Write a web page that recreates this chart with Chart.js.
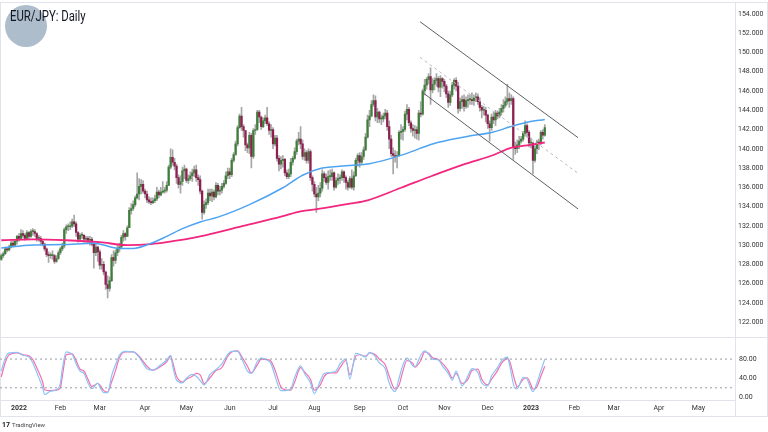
<!DOCTYPE html>
<html>
<head>
<meta charset="utf-8">
<script src="https://cdn.jsdelivr.net/npm/chart.js@4.4.0/dist/chart.umd.min.js"></script>
<style>
  body { margin: 0; width: 768px; height: 432px; overflow: hidden; position: relative; background: #fff; font-family: Roboto, "Noto Sans", sans-serif; }
  #frame { position: absolute; left: 0; top: 2px; width: 766px; height: 413px; border: 1px solid #e0e3eb; }
  .hline { position: absolute; height: 1px; background: #e0e3eb; }
  .vline { position: absolute; width: 1px; background: #e0e3eb; }
  #priceBox { position: absolute; left: 0; top: 0; width: 768px; height: 337px; }
  #stochBox { position: absolute; left: 0; top: 337px; width: 768px; height: 95px; }
  #logo { position: absolute; left: 5px; top: 5px; width: 42px; height: 42px; border-radius: 50%; background: #aebdcb; }
  #title { position: absolute; left: 10px; top: 8px; font-size: 14px; color: #131722; transform: scaleX(0.81); transform-origin: left top; white-space: nowrap; }
  #tv { position: absolute; left: 2px; top: 421px; font-size: 6px; color: #444; white-space: nowrap; }
  #tv b { font-size: 7px; color: #131722; margin-right: 2px; }
</style>
</head>
<body>
<div id="frame"></div>
<div class="hline" style="left:0; top:337px; width:768px;"></div>
<div class="vline" style="left:735px; top:2px; height:414px;"></div>
<div id="priceBox"><canvas id="priceChart" width="768" height="337"></canvas></div>
<div id="stochBox"><canvas id="stochChart" width="768" height="95"></canvas></div>
<div id="logo"></div>
<div id="title">EUR/JPY: Daily</div>
<div id="tv"><b>17</b>TradingView</div>
<script>
// bar 0 = 21 Dec 2021, one bar per weekday
const firstOpen = 128.5;
const closes = [
  128.9,129.1,129.6,129.5,129.8,130.2,130.0,130.4,130.9,
  130.7,131.2,131.0,130.7,131.3,130.9,131.4,131.4,131.2,130.7,
  130.7,130.4,130.1,129.6,129.0,128.9,128.9,128.9,128.3,128.6,
  129.2,129.6,129.9,131.6,131.9,131.9,132.0,132.4,132.2,131.3,
  130.6,131.0,131.0,130.6,130.7,130.5,130.6,130.1,129.2,129.8,
  129.3,127.9,128.0,127.2,125.9,125.5,126.3,128.7,128.4,129.2,
  129.6,129.8,130.8,131.2,130.9,131.8,133.6,133.8,134.2,134.9,
  135.3,136.1,136.3,135.6,135.3,134.7,134.5,134.4,134.6,134.8,
  135.5,135.2,135.5,135.6,135.7,136.2,138.1,139.1,138.6,138.2,
  137.0,136.3,136.6,137.7,137.9,136.7,136.9,137.2,137.5,137.8,
  137.0,136.8,135.6,133.4,134.2,134.4,135.4,135.1,135.5,135.0,
  136.2,135.6,135.7,136.1,136.4,137.2,137.6,137.3,138.8,139.4,
  140.5,142.2,143.4,142.3,141.9,140.4,140.1,141.4,139.2,141.9,
  142.0,143.8,143.3,142.3,142.9,143.2,142.6,141.9,142.0,140.5,
  141.1,139.0,138.4,138.8,138.9,137.5,137.1,137.4,138.6,139.0,
  139.7,140.8,141.0,140.5,139.2,139.6,138.8,139.7,137.0,136.3,
  135.3,135.0,135.4,135.9,137.4,137.0,136.5,137.1,137.1,137.5,
  136.0,136.7,136.9,137.0,137.6,137.0,136.5,136.0,136.9,136.0,
  137.2,138.8,139.3,138.6,139.2,139.9,141.2,143.0,143.4,144.6,
  145.0,143.3,143.8,143.1,143.1,143.4,143.7,142.3,141.0,139.5,
  139.3,139.2,139.3,141.7,141.8,142.0,143.6,144.1,142.7,142.1,
  141.9,142.0,141.6,143.7,143.6,146.0,146.6,147.2,147.5,146.1,
  146.7,147.1,147.3,146.4,147.3,147.0,146.5,145.7,144.8,145.6,
  146.6,147.1,146.5,144.2,144.9,145.1,144.4,145.0,145.1,145.1,
  145.0,145.3,145.4,144.9,144.3,144.0,144.0,143.5,142.6,142.2,
  143.3,143.0,143.7,143.4,143.8,144.2,144.5,144.9,145.2,145.0,
  145.2,140.2,140.0,140.4,140.8,141.0,141.6,142.4,141.7,140.6,
  140.6,138.8,140.0,140.7,140.6,141.7,141.4,142.2
];
const highs = [
  129.1,129.3,129.8,129.7,130.0,130.4,130.5,130.6,131.0,
  131.2,131.6,131.5,131.2,131.5,131.4,131.6,131.7,131.6,131.3,
  131.0,130.9,130.6,130.2,129.7,129.3,129.2,129.4,129.0,128.9,
  129.4,129.8,130.2,131.8,132.1,132.2,132.4,132.7,133.1,132.4,
  131.4,131.2,131.3,131.1,130.9,130.9,130.9,130.8,130.2,130.1,
  129.9,129.5,128.6,128.3,127.3,126.8,126.7,129.0,129.4,129.5,
  130.0,130.2,131.0,131.5,131.3,132.0,133.9,134.3,134.6,135.1,
  137.5,136.9,136.8,136.7,135.8,135.6,135.0,134.9,134.9,135.2,
  136.0,135.7,136.0,136.6,136.0,136.6,138.3,140.0,139.9,139.0,
  138.4,137.3,137.2,138.1,138.3,138.0,137.3,137.6,137.9,138.2,
  138.3,137.3,137.2,135.7,134.6,134.8,135.8,135.8,135.8,135.7,
  136.5,136.4,136.1,136.4,136.7,137.6,138.0,138.0,139.0,139.6,
  140.8,142.4,143.6,144.3,142.5,141.9,140.6,141.7,141.6,142.1,
  142.5,144.0,144.0,143.4,143.2,143.5,144.3,142.8,142.5,142.2,
  141.4,141.4,139.3,139.2,139.3,139.0,137.8,137.9,139.0,139.2,
  140.1,141.0,141.7,142.3,140.9,140.0,139.8,140.0,139.9,137.2,
  136.6,136.0,136.2,136.5,137.8,137.6,137.4,137.7,137.8,137.9,
  137.6,137.0,137.4,137.3,137.8,137.7,137.2,136.7,137.1,137.8,
  137.6,139.0,139.5,139.6,139.6,140.2,141.6,143.5,144.0,145.0,
  145.6,145.5,144.2,143.9,143.5,143.7,144.1,144.0,142.9,141.4,
  140.1,139.8,139.7,141.9,142.5,142.3,143.9,144.6,144.3,142.9,
  142.5,142.4,142.3,144.0,144.9,146.2,147.2,147.4,147.8,148.4,
  147.3,147.4,147.8,147.5,147.6,147.4,147.2,146.7,146.0,146.0,
  146.9,147.3,147.4,146.9,145.3,145.5,145.6,145.4,145.6,145.6,
  145.8,145.6,145.8,145.7,145.3,144.5,144.4,144.3,143.6,142.9,
  143.6,143.8,144.0,143.9,144.2,144.6,145.1,145.4,146.7,145.8,
  145.6,145.4,140.7,140.9,141.3,141.3,141.8,142.9,142.6,141.9,
  141.1,140.7,140.3,140.9,141.0,141.9,142.0,142.5
];
const lows = [
  128.4,128.7,129.0,129.3,129.4,129.7,129.8,129.9,130.1,
  130.4,130.6,130.8,130.5,130.6,130.6,130.8,131.0,130.9,130.4,
  130.4,130.1,129.9,129.4,128.8,128.2,128.6,128.5,128.1,128.2,
  128.5,129.0,129.4,129.7,131.2,131.5,131.6,131.8,131.9,130.9,
  130.3,130.4,130.7,130.3,130.3,130.2,130.0,129.9,127.6,128.9,
  128.3,127.5,127.5,126.9,125.4,124.5,125.2,126.2,127.8,128.1,
  128.9,129.3,129.7,130.4,130.5,130.9,131.8,133.2,133.6,134.0,
  134.8,134.7,135.3,135.4,134.9,134.4,134.3,134.2,134.3,134.4,
  134.6,134.9,135.1,135.4,135.4,135.5,136.2,137.9,138.3,137.8,
  136.4,135.9,135.4,136.2,136.9,136.5,136.4,136.7,136.6,137.1,
  136.6,136.2,135.3,132.7,133.2,133.8,134.2,134.6,134.5,134.7,
  134.9,135.2,135.2,135.4,135.9,136.3,136.9,136.9,137.1,138.6,
  139.3,140.3,142.1,141.9,141.2,139.8,139.6,139.5,138.0,139.0,
  141.5,141.9,142.7,142.0,142.2,142.6,142.4,141.5,141.2,140.0,
  140.3,138.7,137.7,137.9,138.1,137.2,136.9,136.9,137.1,138.3,
  138.9,139.4,140.4,140.0,138.9,138.8,138.5,138.5,136.7,135.6,
  135.0,133.4,134.6,135.0,135.6,136.6,136.3,135.8,136.7,136.7,
  135.7,135.9,136.3,136.4,136.7,136.5,135.8,135.7,135.9,135.8,
  135.7,137.1,138.2,138.1,138.4,138.9,139.8,141.1,142.3,143.3,
  144.4,142.9,142.7,142.7,142.5,142.8,143.1,141.9,140.0,139.2,
  137.4,138.6,138.0,139.2,141.0,140.9,141.8,143.0,142.4,141.7,
  141.3,141.1,141.0,140.9,143.3,143.5,145.6,146.2,146.7,144.6,
  145.8,146.1,146.5,145.9,145.4,146.3,145.9,145.3,144.3,144.5,
  145.4,146.2,146.0,143.7,143.9,144.2,143.9,144.2,144.3,144.6,
  144.6,144.5,144.9,144.6,143.9,143.2,143.5,142.8,142.1,140.8,
  141.9,142.6,142.4,143.1,143.2,143.5,143.8,144.3,144.6,144.3,
  144.6,138.9,139.4,139.6,140.0,140.6,140.8,141.3,141.2,140.2,
  140.1,137.4,138.6,139.5,139.9,140.4,141.0,141.3
];

// moving averages (bar index, price)
const blueMaIdx = [0,16,31,47,60,67,75,84,92,101,110,126,143,153,162,177,187,197,207,219,236,250,258,267,276];
const blueMa = [129.7,130.0,130.05,130.2,129.65,129.65,130.1,130.9,131.7,132.4,132.9,134.2,135.95,137.25,137.95,138.25,138.45,138.95,139.6,140.5,141.25,141.75,142.25,142.75,143.05];
const pinkMaIdx = [0,16,33,50,64,76,84,101,121,143,152,161,177,186,203,219,236,250,258,267,276];
const pinkMa = [130.5,130.6,130.5,130.3,130.0,130.1,130.3,130.9,131.9,133.0,133.5,133.75,134.3,134.65,135.95,137.2,138.45,139.35,140.05,140.35,140.65];

// drawn channel
const channelX = [212.6, 292.9];
const channelUpper = [153.2, 141.15];
const channelMid = [149.5, 137.45];
const channelLowerX = [214.2, 292.9];
const channelLower = [145.8, 133.75];

// stochastic
const stochIdx = [0,2,4,8,11,14,16,18,21,22,25,28,30,31,33,36,38,40,42,44,46,49,50,52,54,56,58,60,63,67,
  70,74,77,81,84,86,87,89,92,94,97,99,101,103,106,109,112,115,117,120,122,125,127,130,132,135,137,139,142,144,
  147,149,152,154,157,159,162,164,167,170,172,175,177,180,182,185,187,190,192,195,197,200,202,204,206,209,210,213,215,217,
  219,222,224,227,229,231,234,237,239,242,244,247,249,252,254,257,258,261,262,265,267,269,270,272,274,276];
const stochK = [55,82,93,94,88,84,72,52,20,6,13,16,30,60,95,90,70,55,50,30,18,30,22,10,10,45,68,88,96,95,
  84,60,57,68,78,88,66,36,30,40,48,44,35,26,48,58,70,90,96,96,82,55,50,75,82,78,70,45,14,14,
  18,42,66,50,30,8,35,50,52,55,70,80,38,92,90,84,94,85,72,60,30,12,40,68,82,66,64,88,97,90,
  80,78,66,50,36,55,24,45,60,52,30,24,45,62,76,84,70,18,18,42,38,18,12,30,55,80];
const stochD = [43,73,89,93,89,87,79,62,32,16,14,15,20,44,89,91,77,59,55,38,23,29,26,14,11,32,56,83,95,95,
  86,65,57,65,74,86,74,44,32,38,44,50,47,29,41,56,62,86,95,97,86,65,51,68,80,79,75,57,22,16,
  15,32,62,53,38,15,26,44,51,51,62,77,47,86,89,86,93,89,80,68,44,17,26,56,77,71,63,77,95,92,
  83,79,71,56,40,50,29,38,56,59,38,26,38,56,71,81,77,32,22,38,41,26,17,22,44,65];
const stochLevels = [80, 20];

// axes
const priceTicks = [122,124,126,128,130,132,134,136,138,140,142,144,146,148,150,152,154];
const stochTicks = [0, 40, 80];
const monthIdx = [9,30,50,73,94,116,138,159,182,204,225,247,269,291,311,334,354];
const monthLabels = ['2022','Feb','Mar','Apr','May','Jun','Jul','Aug','Sep','Oct','Nov','Dec','2023','Feb','Mar','Apr','May'];
const xMin = -0.66, xMax = 372.6;

const opens = closes.map((c, i) => i === 0 ? firstOpen : closes[i - 1]);
const wicks = closes.map((c, i) => ({ x: i, y: [lows[i], highs[i]] }));
const bodies = closes.map((c, i) => ({ x: i, y: [opens[i], c] }));
const bodyColors = closes.map((c, i) => c >= opens[i] ? '#3f7e3a' : '#8e1f50');
const pts = (xs, ys) => xs.map((x, i) => ({ x: x, y: ys[i] }));

const axisFont = { family: 'Roboto', size: 7 };

new Chart(document.getElementById('priceChart'), {
  type: 'bar',
  data: {
    datasets: [
      { type: 'line', data: pts(channelX, channelUpper), borderColor: '#5d6066', borderWidth: 1, pointRadius: 0, order: 0 },
      { type: 'line', data: pts(channelX, channelMid), borderColor: '#b8bbc2', borderWidth: 1, borderDash: [3, 3], pointRadius: 0, order: 0 },
      { type: 'line', data: pts(channelLowerX, channelLower), borderColor: '#5d6066', borderWidth: 1, pointRadius: 0, order: 0 },
      { type: 'line', data: pts(blueMaIdx, blueMa), borderColor: '#4ea3f2', borderWidth: 1.5, pointRadius: 0, cubicInterpolationMode: 'monotone', order: 0 },
      { type: 'line', data: pts(pinkMaIdx, pinkMa), borderColor: '#f2267f', borderWidth: 1.8, pointRadius: 0, cubicInterpolationMode: 'monotone', order: 0 },
      { data: bodies, backgroundColor: bodyColors, barThickness: 1.6, minBarLength: 1, grouped: false, order: 1 },
      { data: wicks, backgroundColor: '#a6a6a6', barThickness: 1, grouped: false, order: 2 }
    ]
  },
  options: {
    responsive: false,
    animation: false,
    layout: { padding: { top: 3, bottom: 0, left: 0, right: 0 } },
    plugins: { legend: { display: false }, tooltip: { enabled: false } },
    scales: {
      x: { type: 'linear', min: xMin, max: xMax, offset: false, display: false },
      y: {
        position: 'right', min: 121.2, max: 154.7,
        grid: { display: false, drawTicks: false },
        border: { display: false },
        afterBuildTicks: (s) => { s.ticks = priceTicks.map(v => ({ value: v })); },
        afterFit: (s) => { s.width = 33; },
        ticks: { padding: 3, color: '#333', font: axisFont, callback: (v) => v.toFixed(3) }
      }
    }
  }
});

new Chart(document.getElementById('stochChart'), {
  type: 'line',
  data: {
    datasets: [
      { data: pts([xMin, xMax], [stochLevels[0], stochLevels[0]]), borderColor: '#9a9ca3', borderWidth: 1, borderDash: [2, 3], pointRadius: 0 },
      { data: pts([xMin, xMax], [stochLevels[1], stochLevels[1]]), borderColor: '#9a9ca3', borderWidth: 1, borderDash: [2, 3], pointRadius: 0 },
      { data: pts(stochIdx, stochK), borderColor: '#8cc4f5', borderWidth: 1.2, pointRadius: 0, cubicInterpolationMode: 'monotone' },
      { data: pts(stochIdx, stochD), borderColor: '#f56fae', borderWidth: 1.2, pointRadius: 0, cubicInterpolationMode: 'monotone' }
    ]
  },
  options: {
    responsive: false,
    animation: false,
    layout: { padding: { top: 0, bottom: 16, left: 0, right: 0 } },
    plugins: { legend: { display: false }, tooltip: { enabled: false } },
    scales: {
      x: {
        type: 'linear', min: xMin, max: xMax,
        grid: { display: false, drawTicks: false },
        border: { display: true, color: '#e0e3eb' },
        afterBuildTicks: (s) => { s.ticks = monthIdx.map(v => ({ value: v })); },
        afterFit: (s) => { s.height = 16; },
        ticks: {
          padding: 4, color: '#333', autoSkip: false, maxRotation: 0,
          font: (ctx) => ({ family: 'Roboto', size: 7, weight: ctx.tick && /^20/.test(ctx.tick.label) ? 'bold' : 'normal' }),
          callback: (v) => monthLabels[monthIdx.indexOf(v)]
        }
      },
      y: {
        position: 'right', min: -5.5, max: 109,
        grid: { display: false, drawTicks: false },
        border: { display: false },
        afterBuildTicks: (s) => { s.ticks = stochTicks.map(v => ({ value: v })); },
        afterFit: (s) => { s.width = 33; },
        ticks: { padding: 4, color: '#333', font: axisFont, callback: (v) => v.toFixed(2) }
      }
    }
  }
});
</script>
</body>
</html>
